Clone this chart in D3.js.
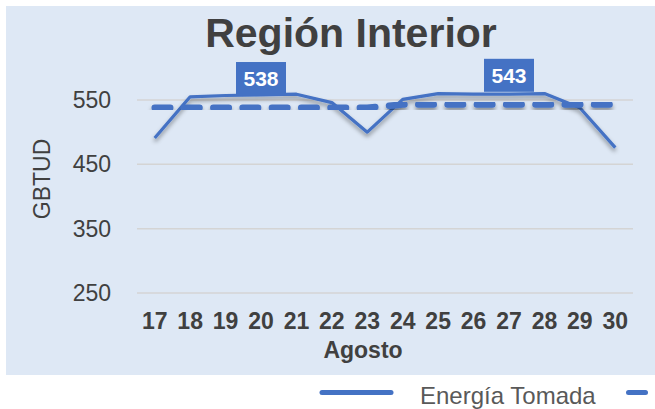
<!DOCTYPE html>
<html><head><meta charset="utf-8">
<script src="https://cdn.jsdelivr.net/npm/d3@7"></script>
<style>body{margin:0;background:#fff}svg{display:block}text{font-family:"Liberation Sans",Arial,sans-serif}</style>
</head><body><svg id="c" width="655" height="409"></svg>
<script>
const days = ["17","18","19","20","21","22","23","24","25","26","27","28","29","30"];
const energia = [491,555,557,558,559,546,500,551,560,559,559,560,538,476];
const promedio = [538,538,538,538,538,538,538,543,543,543,543,543,543,543];
const labelDays = ["20","27"];
const labelValues = [538,543];
const yTicks = [250,350,450,550];

const svg = d3.select("#c");
const blue = "#4472C4";
const defs = svg.append("defs");
const f = defs.append("filter").attr("id","sh").attr("x","-10%").attr("y","-50%").attr("width","120%").attr("height","200%");
f.append("feDropShadow").attr("dx",0).attr("dy",3).attr("stdDeviation",2).attr("flood-color","#000").attr("flood-opacity",0.4);

svg.append("rect").attr("x",6).attr("y",6).attr("width",649).attr("height",369).attr("fill","#DEE8F5");

const x = d3.scaleBand().domain(days).range([137,633]);
const y = d3.scaleLinear().domain([250,550]).range([293,100]);
const cx = d => x(d) + x.bandwidth()/2;

// gridlines
svg.append("g").selectAll("line").data(yTicks).join("line")
  .attr("x1",137).attr("x2",633).attr("y1",d=>y(d)).attr("y2",d=>y(d))
  .attr("stroke","#D4D4D4").attr("stroke-width",1.5);

// y axis labels
const ya = svg.append("g").attr("transform","translate(111,0)")
  .call(d3.axisLeft(y).tickValues(yTicks).tickSize(0).tickPadding(0));
ya.select(".domain").remove();
ya.selectAll("text").attr("font-size",23).attr("fill","#404040").attr("font-family","Liberation Sans, Arial, sans-serif");

// x axis labels
const xa = svg.append("g").attr("transform","translate(0,313)")
  .call(d3.axisBottom(x).tickSize(0).tickPadding(0));
xa.select(".domain").remove();
xa.selectAll("text").attr("font-size",23).attr("font-weight","bold").attr("fill","#404040")
  .attr("dy","0.71em").attr("y",0).attr("font-family","Liberation Sans, Arial, sans-serif");

// titles
svg.append("text").attr("x",351).attr("y",47).attr("text-anchor","middle")
  .attr("font-size",41).attr("font-weight","bold").attr("fill","#404040").text("Región Interior");
svg.append("text").attr("x",363).attr("y",358).attr("text-anchor","middle")
  .attr("font-size",23).attr("font-weight","bold").attr("fill","#404040").text("Agosto");
svg.append("text").attr("transform","translate(50,179) rotate(-90)").attr("text-anchor","middle")
  .attr("font-size",23).attr("fill","#404040").text("GBTUD");

// lines
const line = d3.line().x((d,i)=>cx(days[i])).y(d=>y(d));
svg.append("path").datum(energia).attr("d",line).attr("fill","none")
  .attr("stroke",blue).attr("stroke-width",3.2).attr("stroke-linejoin","round").attr("filter","url(#sh)");
svg.append("path").datum(promedio).attr("d",line).attr("fill","none")
  .attr("stroke",blue).attr("stroke-width",6.5).attr("stroke-linecap","round")
  .attr("stroke-dasharray","15.5 13.8").attr("filter","url(#sh)");

// data labels
labelDays.forEach((d,i)=>{
  const px = cx(d), py = y(labelValues[i]) - 12.7;
  svg.append("rect").attr("x",px-25).attr("y",py-33).attr("width",50).attr("height",33).attr("fill",blue);
  svg.append("text").attr("x",px).attr("y",py-9).attr("text-anchor","middle")
    .attr("font-size",21).attr("font-weight","bold").attr("fill","#fff").text(labelValues[i]);
});

// legend
svg.append("line").attr("x1",322).attr("x2",391).attr("y1",392.5).attr("y2",392.5)
  .attr("stroke",blue).attr("stroke-width",5).attr("stroke-linecap","round");
svg.append("text").attr("x",420).attr("y",404).attr("font-size",24).attr("fill","#595959").text("Energía Tomada");
svg.append("line").attr("x1",628.5).attr("x2",645.5).attr("y1",392.5).attr("y2",392.5)
  .attr("stroke",blue).attr("stroke-width",5).attr("stroke-linecap","round");
</script></body></html>
